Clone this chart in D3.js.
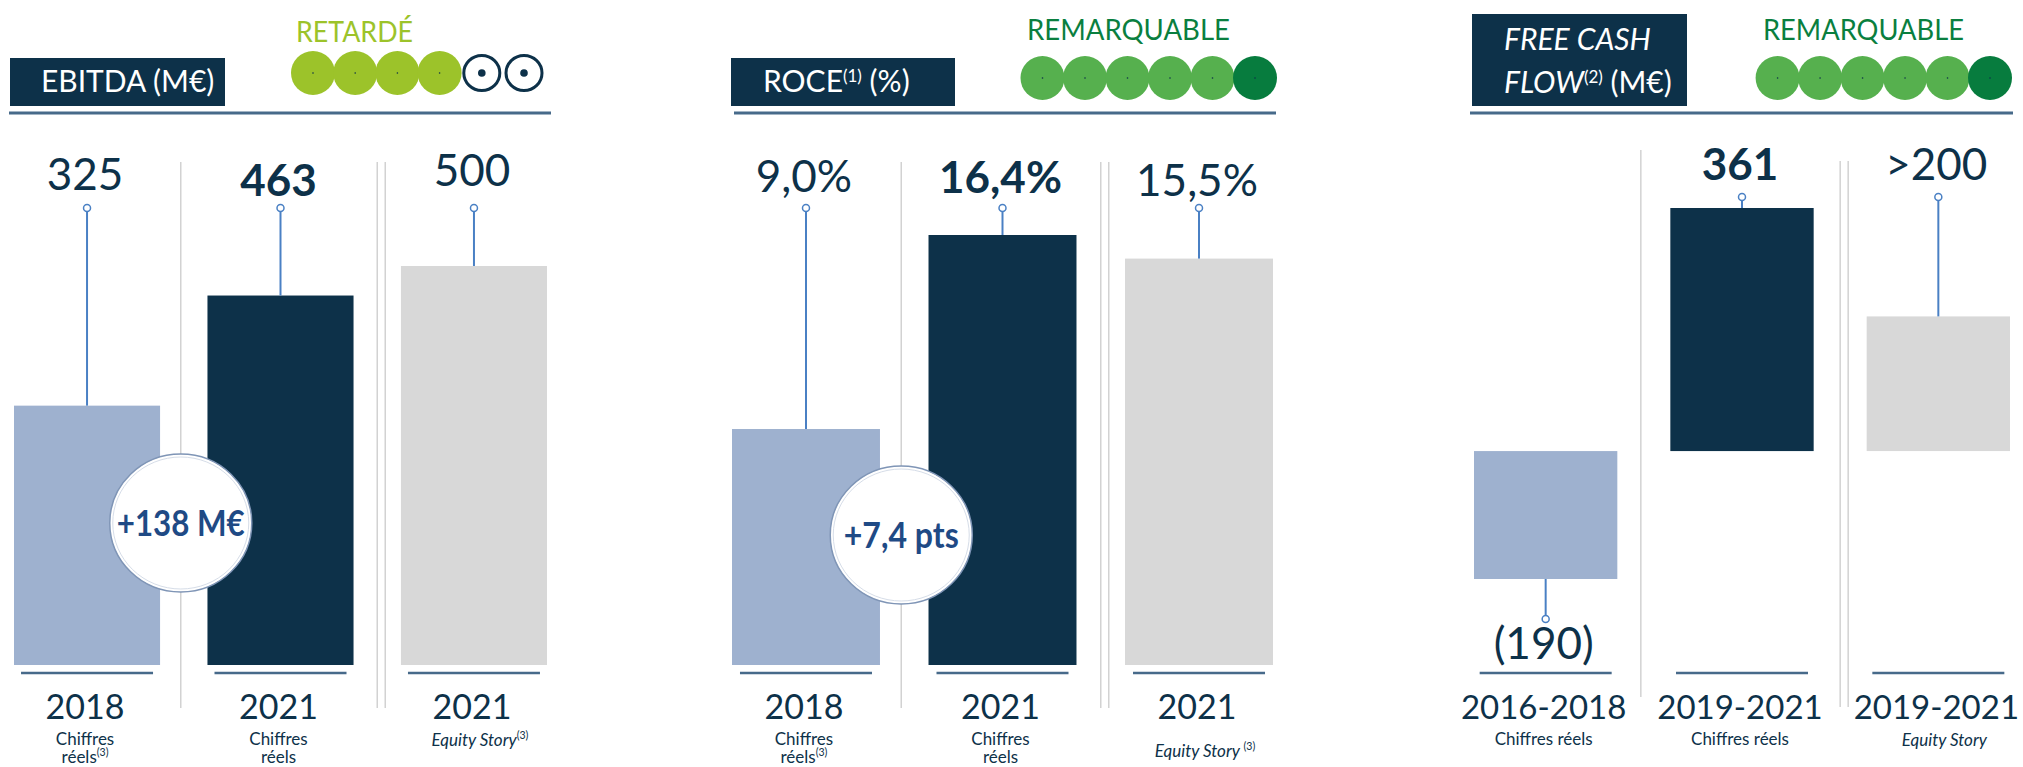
<!DOCTYPE html>
<html>
<head>
<meta charset="utf-8">
<script src="https://cdn.jsdelivr.net/npm/d3@7"></script>
<style>
  body { margin: 0; background: #fff; }
  text { font-family: Lato, "Noto Sans", sans-serif; }
</style>
</head>
<body>
<svg id="chart" width="2023" height="767"></svg>
<script>
// ---- data ----
var ebitdaValues = [325, 463, 500];
var ebitdaLabels = ["325", "463", "500"];
var ebitdaYears = ["2018", "2021", "2021"];
var ebitdaNotes = [["Chiffres", "réels^(3)"], ["Chiffres", "réels"], ["_Equity Story^(3)"]];
var ebitdaRating = [1, 1, 1, 1, 0, 0];

var roceValues = [9.0, 16.4, 15.5];
var roceLabels = ["9,0%", "16,4%", "15,5%"];
var roceYears = ["2018", "2021", "2021"];
var roceNotes = [["Chiffres", "réels^(3)"], ["Chiffres", "réels"], ["_Equity Story ^(3)"]];
var roceRating = [1, 1, 1, 1, 1, 2];

var fcfValues = [-190, 361, 200];
var fcfLabels = ["(190)", "361", ">200"];
var fcfYears = ["2016-2018", "2019-2021", "2019-2021"];
var fcfNotes = [["Chiffres réels"], ["Chiffres réels"], ["_Equity Story"]];
var fcfRating = [1, 1, 1, 1, 1, 2];

var statusLabels = ["RETARDÉ", "REMARQUABLE", "REMARQUABLE"];
var deltaLabels = ["+138 M€", "+7,4 pts"];

// ---- styles ----
var navy = "#0d3149";
var barColors = ["#9eb1cf", "#0d3149", "#d8d8d8"];
var stemColor = "#4a80c4";
var ruleColor = "#476a8a";
var sepColor = "#d2d2d2";

var svg = d3.select("#chart");

// text with "_" prefix = italic, "^" = superscript part
function richText(sel, str, size) {
    var italic = str.charAt(0) === "_";
    if (italic) str = str.slice(1);
    var parts = str.split("^");
    sel.append("tspan").text(parts[0]).style("font-style", italic ? "italic" : "normal");
    if (parts[1]) {
        sel.append("tspan").text(parts[1])
            .attr("dy", -size * 0.4)
            .style("font-size", (size * 0.62) + "px");
    }
}

function drawPanel(p) {
    var g = svg.append("g");

    var x = d3.scaleBand()
            .domain(d3.range(p.values.length))
            .range(p.xRange)
            .paddingInner(p.pad)
            .paddingOuter(0);

    var lo = Math.min(0, d3.min(p.values));
    var y = d3.scaleLinear()
            .domain([lo, d3.max(p.values)])
            .range(p.yRange);

    var step = x.step(), bw = x.bandwidth();

    // header underline
    g.append("line")
            .attr("x1", p.rule[0]).attr("x2", p.rule[1])
            .attr("y1", 113).attr("y2", 113)
            .attr("stroke", ruleColor).attr("stroke-width", 3);

    // separators
    var gapMid = function (i) { return x(i) + bw + (step - bw) / 2; };
    var seps = [gapMid(0) - 3, gapMid(1), gapMid(1) + 8];
    g.selectAll("line.sep")
            .data(seps)
            .enter()
            .append("line")
            .attr("class", "sep")
            .attr("x1", function (d) { return d; })
            .attr("x2", function (d) { return d; })
            .attr("y1", function (d, i) { return i === 0 ? p.sepTop[0] : p.sepTop[1]; })
            .attr("y2", function (d, i) { return i === 0 ? p.sepBottom[0] : p.sepBottom[1]; })
            .attr("stroke", sepColor).attr("stroke-width", 1.5);

    // bars
    g.selectAll("rect.bar")
            .data(p.values)
            .enter()
            .append("rect")
            .attr("class", "bar")
            .attr("x", function (d, i) { return x(i); })
            .attr("width", bw)
            .attr("y", function (d) { return Math.min(y(d), y(0)); })
            .attr("height", function (d) { return Math.abs(y(d) - y(0)); })
            .attr("fill", function (d, i) { return barColors[i]; });

    // stems + value labels
    p.values.forEach(function (v, i) {
        var cx = x(i) + bw / 2;
        var end, knob, base;
        if (v >= 0) {
            knob = p.knobY; end = y(v); base = p.labelY[i];
        } else {
            end = y(v); knob = end + 40; base = knob + 40;
        }
        g.append("line")
                .attr("x1", cx).attr("x2", cx)
                .attr("y1", knob).attr("y2", end)
                .attr("stroke", stemColor).attr("stroke-width", 2);
        g.append("circle")
                .attr("cx", cx).attr("cy", knob).attr("r", 3.5)
                .attr("fill", "#fff").attr("stroke", stemColor).attr("stroke-width", 1.5);
        g.append("text")
                .attr("x", cx - 2).attr("y", base)
                .attr("text-anchor", "middle")
                .style("font-size", "44px")
                .style("font-weight", i === 1 ? 700 : 400)
                .attr("fill", navy)
                .text(p.labels[i]);
    });

    // short rules under bars
    g.selectAll("line.foot")
            .data(p.values)
            .enter()
            .append("line")
            .attr("class", "foot")
            .attr("x1", function (d, i) { return x(i) + bw / 2 - 66; })
            .attr("x2", function (d, i) { return x(i) + bw / 2 + 66; })
            .attr("y1", 673).attr("y2", 673)
            .attr("stroke", ruleColor).attr("stroke-width", 2.5);

    // category labels
    p.years.forEach(function (yr, i) {
        var cx = x(i) + bw / 2 - 2;
        g.append("text")
                .attr("x", cx).attr("y", 719)
                .attr("text-anchor", "middle")
                .style("font-size", p.yearSize + "px")
                .attr("fill", navy)
                .text(yr);
        p.notes[i].forEach(function (line, j) {
            var t = g.append("text")
                    .attr("x", cx + (line.charAt(0) === "_" ? 8 : 0))
                    .attr("y", (line.charAt(0) === "_" ? p.italicY : 745) + j * 18)
                    .attr("text-anchor", "middle")
                    .style("font-size", "17px")
                    .attr("fill", navy);
            richText(t, line, 17);
        });
    });

    // delta bubble
    if (p.delta) {
        var cx0 = gapMid(0) - 3;
        g.append("ellipse")
                .attr("cx", cx0).attr("cy", p.deltaY)
                .attr("rx", 71).attr("ry", 69)
                .attr("fill", "#fff").attr("stroke", "#7f95b6").attr("stroke-width", 1.5);
        g.append("ellipse")
                .attr("cx", cx0).attr("cy", p.deltaY)
                .attr("rx", 68).attr("ry", 66)
                .attr("fill", "none").attr("stroke", "#d6dde8").attr("stroke-width", 1);
        g.append("text")
                .attr("x", cx0).attr("y", p.deltaY + 13)
                .attr("text-anchor", "middle")
                .style("font-size", "37px").style("font-weight", 700)
                .attr("textLength", p.deltaW).attr("lengthAdjust", "spacingAndGlyphs")
                .attr("fill", "#1f4a85")
                .text(p.delta);
    }

    // title box
    g.append("rect")
            .attr("x", p.box[0]).attr("y", p.box[1])
            .attr("width", p.box[2]).attr("height", p.box[3])
            .attr("fill", navy);
    p.title(g);

    // status label + rating dots
    g.append("text")
            .attr("x", p.status[0]).attr("y", p.status[1])
            .style("font-size", "28px")
            .attr("textLength", p.status[2]).attr("lengthAdjust", "spacingAndGlyphs")
            .attr("fill", p.statusColor)
            .text(p.statusText);

    var rx = d3.scaleLinear().domain([0, 5]).range(p.dotRange);
    var dots = g.selectAll("g.dot")
            .data(p.rating)
            .enter()
            .append("g")
            .attr("class", "dot")
            .attr("transform", function (d, i) { return "translate(" + rx(i) + "," + p.dotY + ")"; });
    dots.append("ellipse")
            .attr("rx", function (d) { return d === 0 ? 18 : 22; })
            .attr("ry", function (d) { return d === 0 ? 17.5 : 22; })
            .attr("fill", function (d) { return d === 0 ? "#fff" : (d === 2 ? "#077c3e" : p.dotColor); })
            .attr("stroke", function (d) { return d === 0 ? navy : "none"; })
            .attr("stroke-width", 3);
    dots.append("circle")
            .attr("r", function (d) { return d === 0 ? 3.8 : 0.8; })
            .attr("fill", navy);
}

// ---- panels ----
drawPanel({
    values: ebitdaValues, labels: ebitdaLabels, years: ebitdaYears, notes: ebitdaNotes,
    rating: ebitdaRating, statusText: statusLabels[0], delta: deltaLabels[0],
    xRange: [14, 547], pad: 0.245, yRange: [665, 266],
    rule: [9, 551], sepTop: [162, 162], sepBottom: [708, 708],
    knobY: 208, labelY: [190, 196, 186], italicY: 746, yearSize: 34,
    deltaY: 523, deltaW: 128,
    box: [10, 58, 215, 48],
    title: function (g) {
        g.append("text").attr("x", 41).attr("y", 92)
                .style("font-size", "30px").attr("fill", "#fff")
                .text("EBITDA (M€)");
    },
    status: [296, 42, 117], statusColor: "#9cc32a",
    dotRange: [313, 524], dotY: 73, dotColor: "#9cc32a"
});

drawPanel({
    values: roceValues, labels: roceLabels, years: roceYears, notes: roceNotes,
    rating: roceRating, statusText: statusLabels[1], delta: deltaLabels[1],
    xRange: [732, 1273], pad: 0.247, yRange: [665, 235],
    rule: [734, 1276], sepTop: [162, 162], sepBottom: [708, 708],
    knobY: 208, labelY: [192, 193, 196], italicY: 757, yearSize: 34,
    deltaY: 535, deltaW: 115,
    box: [731, 58, 224, 48],
    title: function (g) {
        var t = g.append("text").attr("x", 763).attr("y", 92)
                .style("font-size", "30px").attr("fill", "#fff");
        t.append("tspan").text("ROCE");
        t.append("tspan").text("(1)").attr("dy", -10).style("font-size", "17px");
        t.append("tspan").text(" (%)").attr("dy", 10);
    },
    status: [1027, 40, 203], statusColor: "#0a7f3f",
    dotRange: [1042.5, 1255], dotY: 78, dotColor: "#56b04e"
});

drawPanel({
    values: fcfValues, labels: fcfLabels, years: fcfYears, notes: fcfNotes,
    rating: fcfRating, statusText: statusLabels[2], delta: null,
    xRange: [1474, 2010], pad: 0.27, yRange: [579, 208],
    rule: [1470, 2013], sepTop: [150, 161], sepBottom: [697, 707],
    knobY: 197, labelY: [180, 180, 180], italicY: 746, yearSize: 33,
    box: [1472, 14, 215, 92],
    title: function (g) {
        g.append("text").attr("x", 1504).attr("y", 50)
                .style("font-size", "30px").style("font-style", "italic").attr("fill", "#fff")
                .text("FREE CASH");
        var t = g.append("text").attr("x", 1504).attr("y", 93)
                .style("font-size", "30px").attr("fill", "#fff");
        t.append("tspan").text("FLOW").style("font-style", "italic");
        t.append("tspan").text("(2)").attr("dy", -10).style("font-size", "17px");
        t.append("tspan").text(" (M€)").attr("dy", 10);
    },
    status: [1763, 40, 201], statusColor: "#0a7f3f",
    dotRange: [1777.6, 1990], dotY: 78, dotColor: "#56b04e"
});
</script>
</body>
</html>
